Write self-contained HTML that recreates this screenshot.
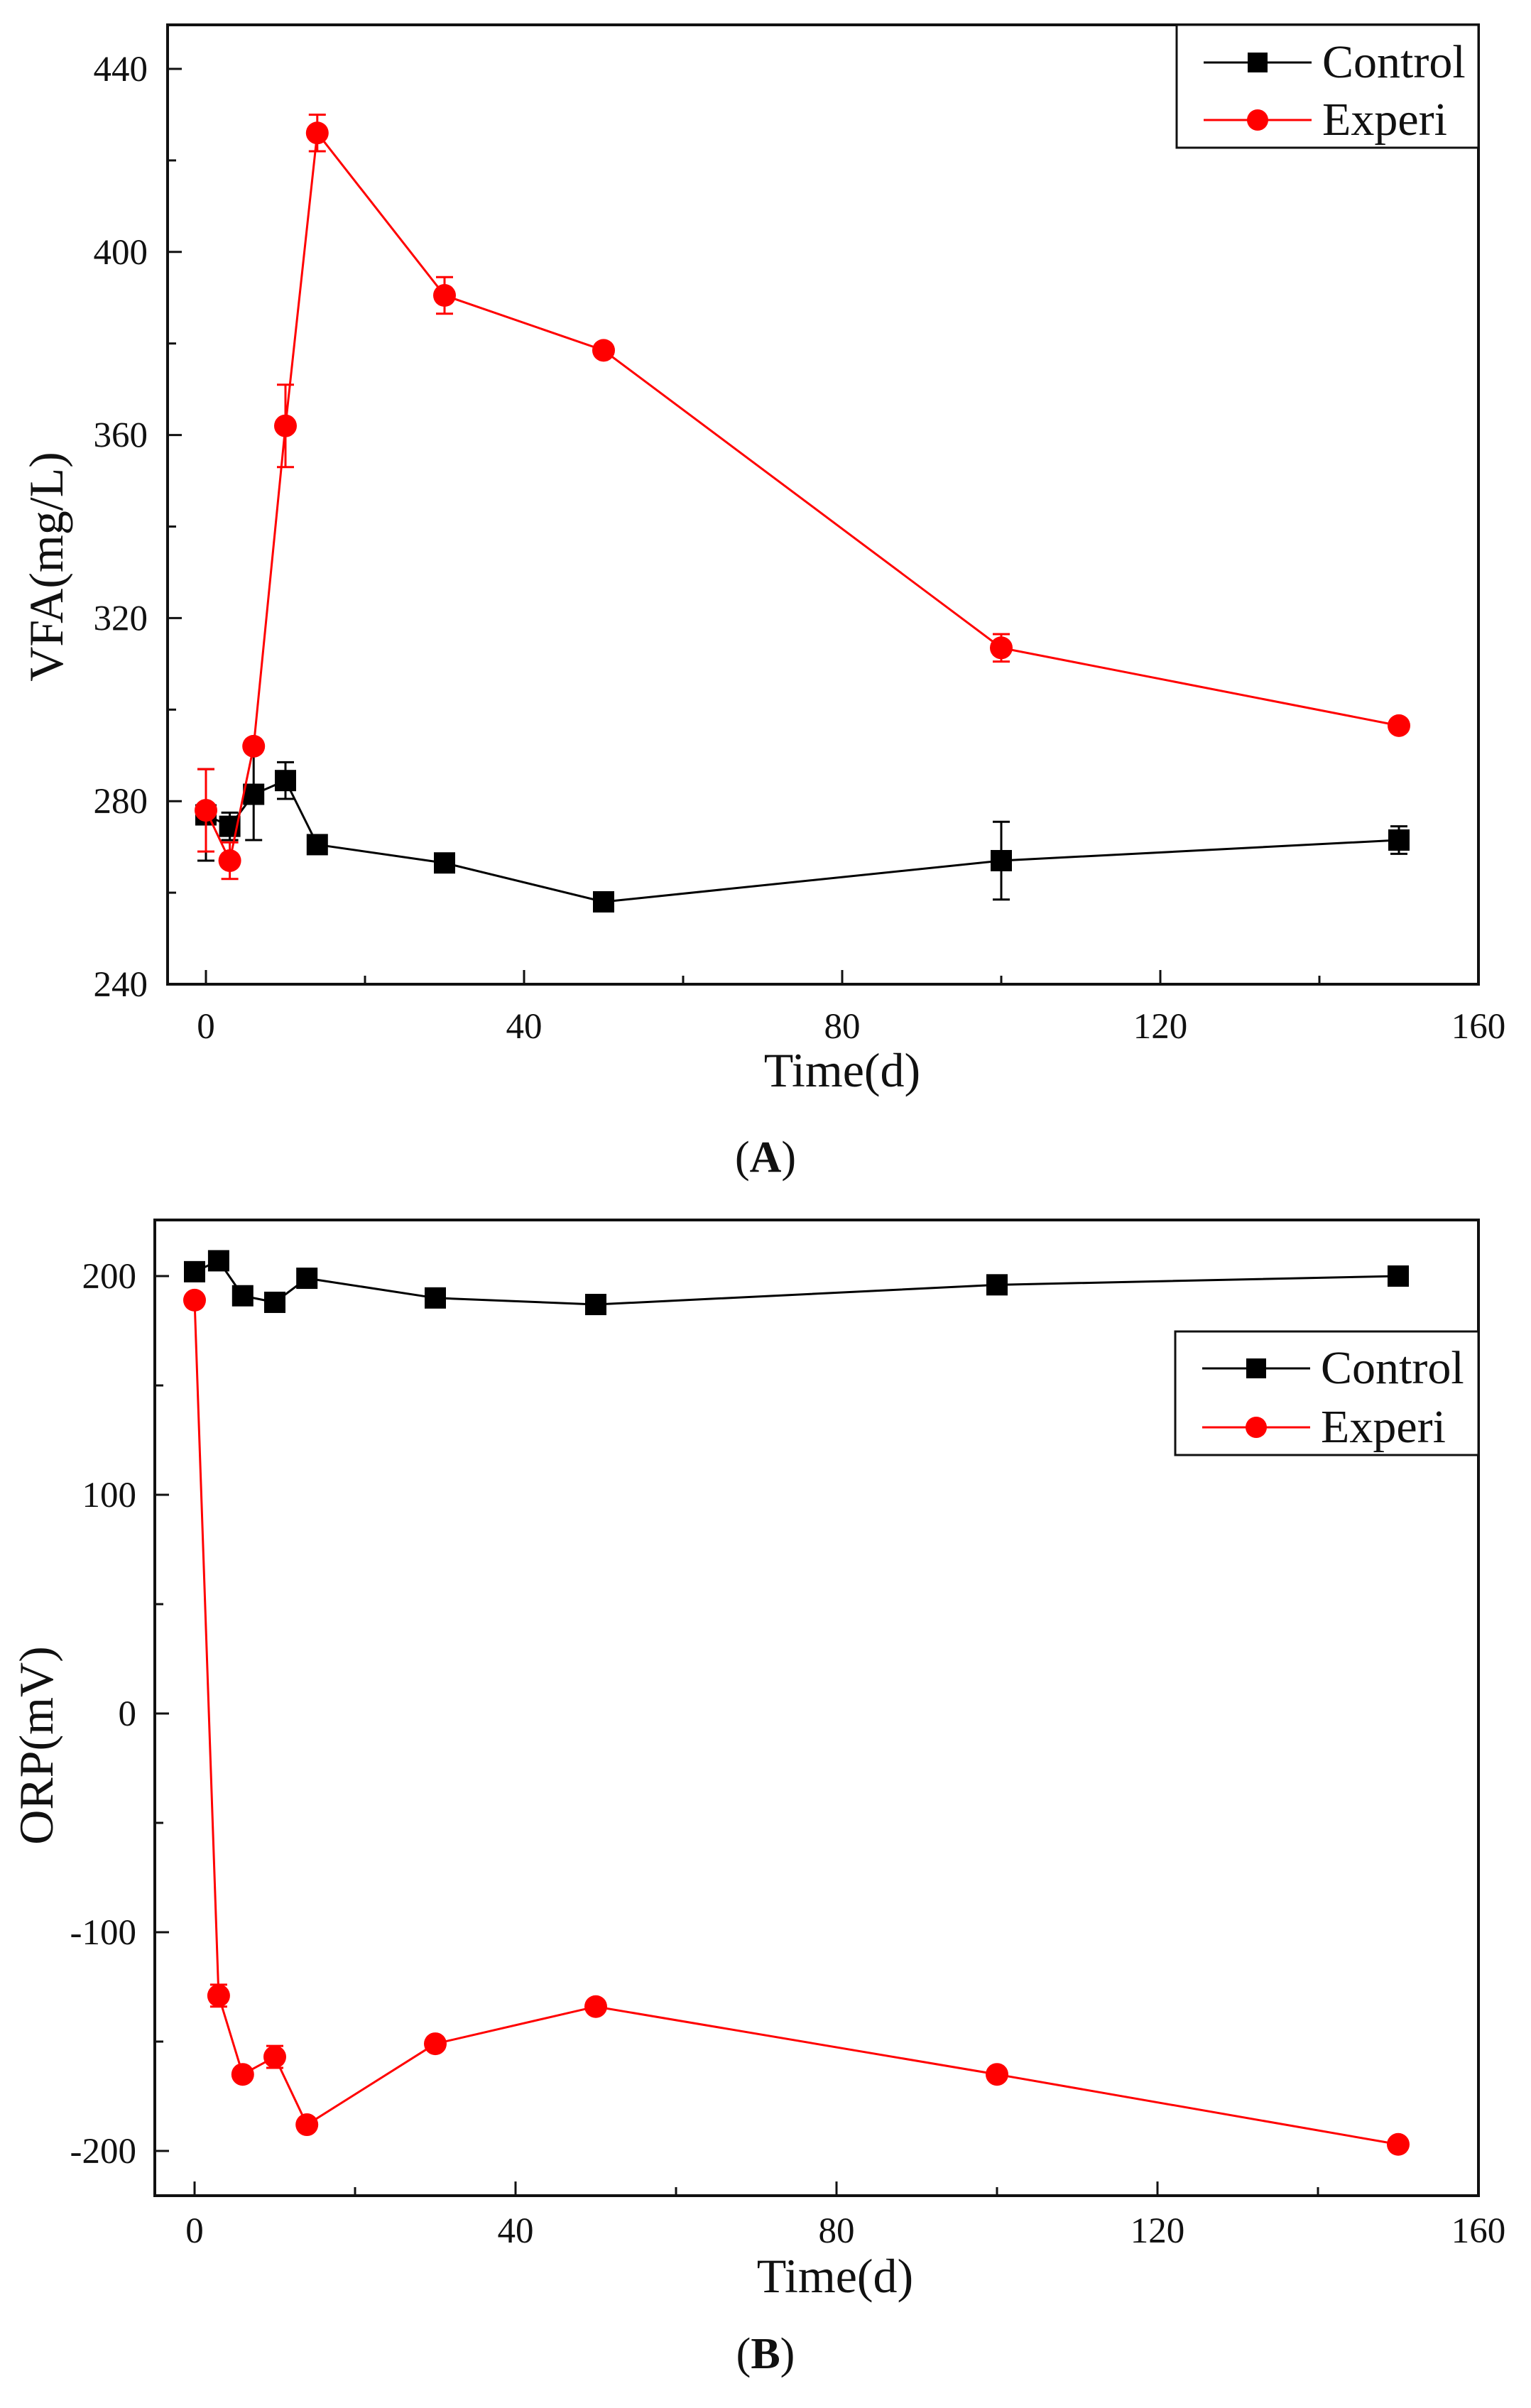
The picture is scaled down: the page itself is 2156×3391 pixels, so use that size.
<!DOCTYPE html>
<html><head><meta charset="utf-8">
<style>
html,body{margin:0;padding:0;background:#fff;}
svg{display:block;}
text{font-family:"Liberation Serif",serif;fill:#111;}
</style></head>
<body>
<svg id="s" width="2156" height="3391" xmlns="http://www.w3.org/2000/svg"></svg>
<script>
const S=document.getElementById('s');let h='';
function chart(o){
 const X=v=>o.x0+(v)*o.xs, Y=v=>o.yb-(v-o.ymin)*o.ys;
 h+=`<rect x="${o.L}" y="${o.T}" width="${o.R-o.L}" height="${o.B-o.T}" fill="none" stroke="#111" stroke-width="4"/>`;
 for(let v=0;v<=160;v+=20){const x=X(v),len=v%40?12:20;
  h+=`<line x1="${x}" y1="${o.B}" x2="${x}" y2="${o.B-len}" stroke="#111" stroke-width="3"/>`;
  if(v%40==0)h+=`<text x="${x}" y="${o.xl}" font-size="51" text-anchor="middle">${v}</text>`;}
 for(let v=o.ymin;v<=o.ymax+0.01;v+=o.ystep/2){const y=Y(v);const maj=Math.abs((v-o.ymin)%o.ystep)<0.01;
  if(y<o.T||y>o.B)continue;
  h+=`<line x1="${o.L}" y1="${y}" x2="${o.L+(maj?20:12)}" y2="${y}" stroke="#111" stroke-width="3"/>`;
  if(maj)h+=`<text x="${o.yr}" y="${y+17}" font-size="51" text-anchor="end">${v<0?'-'+(-v):v}</text>`;}
 o.series.forEach(s=>{
  h+=`<polyline fill="none" stroke="${s.c}" stroke-width="3" points="${s.d.map(p=>X(p[0])+','+Y(p[1])).join(' ')}"/>`;
  s.d.forEach(p=>{const x=X(p[0]),y=Y(p[1]);
   if(p[2]){const a=Y(p[1]+p[2]),b=Y(p[1]-p[2]);
    h+=`<line x1="${x}" y1="${a}" x2="${x}" y2="${b}" stroke="${s.c}" stroke-width="3"/><line x1="${x-12}" y1="${a}" x2="${x+12}" y2="${a}" stroke="${s.c}" stroke-width="3"/><line x1="${x-12}" y1="${b}" x2="${x+12}" y2="${b}" stroke="${s.c}" stroke-width="3"/>`;}
   h+=s.m=='s'?`<rect x="${x-15}" y="${y-15}" width="30" height="30" fill="${s.c}"/>`:`<circle cx="${x}" cy="${y}" r="16" fill="${s.c}"/>`;});
 });
 const g=o.leg;
 h+=`<rect x="${g.x}" y="${g.y}" width="${g.w}" height="${g.h}" fill="#fff" stroke="#111" stroke-width="3"/>`;
 [[g.c1,'#000','s','Control'],[g.c2,'#f00','c','Experi']].forEach(r=>{
  h+=`<line x1="${g.x+38}" y1="${r[0]}" x2="${g.x+190}" y2="${r[0]}" stroke="${r[1]}" stroke-width="3"/>`;
  h+=r[2]=='s'?`<rect x="${g.x+100}" y="${r[0]-14}" width="28" height="28" fill="#000"/>`:`<circle cx="${g.x+114}" cy="${r[0]}" r="15" fill="#f00"/>`;
  h+=`<text x="${g.x+205}" y="${r[0]+21}" font-size="66">${r[3]}</text>`;});
 h+=`<text x="${o.xtx}" y="${o.xty}" font-size="68" text-anchor="middle">Time(d)</text>`;
 h+=`<text transform="translate(${o.ytx},${o.yty}) rotate(-90)" font-size="68" text-anchor="middle">${o.yt}</text>`;
 h+=`<text x="1078" y="${o.cap}" font-size="62" text-anchor="middle">(<tspan font-weight="bold">${o.capt}</tspan>)</text>`;
}
chart({L:236,R:2082,T:35,B:1386,x0:290,xs:11.2,ymin:240,ymax:440,ystep:40,yb:1386,ys:6.445,xl:1462,yr:208,
 xtx:1186,xty:1530,ytx:88,yty:798,yt:'VFA(mg/L)',cap:1650,capt:'A',
 leg:{x:1657,y:35,w:425,h:173,c1:88,c2:169},
 series:[{c:'#000',m:'s',d:[[0,277,10],[3,274.5,3],[6,281.5,10],[10,284.5,4],[14,270.5],[30,266.5],[50,258],[100,267,8.5],[150,271.5,3]]},
 {c:'#f00',m:'c',d:[[0,278,9],[3,267,4],[6,292],[10,362,9],[14,426,4],[30,390.5,4],[50,378.5],[100,313.5,3],[150,296.5]]}]});
chart({L:218,R:2082,T:1718,B:3092,x0:274,xs:11.3,ymin:-200,ymax:200,ystep:100,yb:3029,ys:3.08,xl:3158,yr:192,
 xtx:1176,xty:3228,ytx:74,yty:2458,yt:'ORP(mV)',cap:3335,capt:'B',
 leg:{x:1655,y:1875,w:427,h:174,c1:1927,c2:2010},
 series:[{c:'#000',m:'s',d:[[0,202],[3,207],[6,191],[10,188],[14,199],[30,190],[50,187],[100,196],[150,200]]},
 {c:'#f00',m:'c',d:[[0,189],[3,-129,5],[6,-165],[10,-157,5],[14,-188],[30,-151],[50,-134],[100,-165],[150,-197]]}]});
S.innerHTML=h;
</script>
</body></html>
